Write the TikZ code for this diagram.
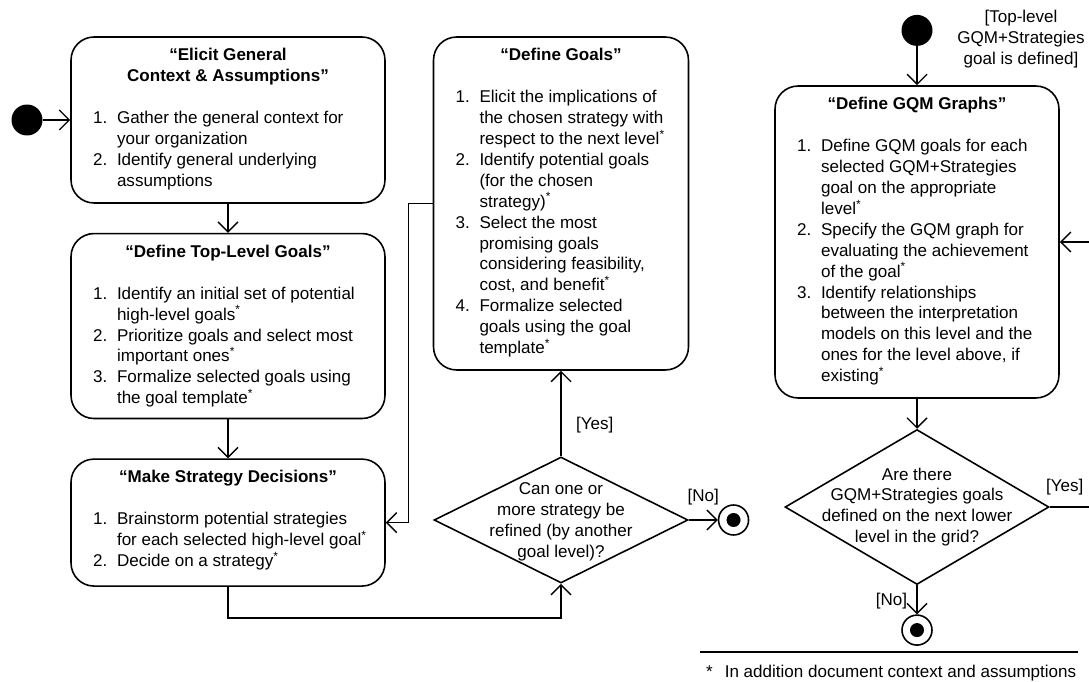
\documentclass[tikz,border=0pt]{standalone}
\usepackage{fontspec}
\setmainfont{Liberation Sans}
\usetikzlibrary{shapes.geometric, arrows.meta, positioning}

\newcommand{\starmark}{\textsuperscript{*}}
\newcommand{\actitem}[2]{\hangindent=0.48cm\hangafter=1\noindent\makebox[0.48cm][l]{#1}#2\par}
\newcommand{\actbody}[4]{\parbox[c][#2][t]{#1}{\vspace*{0.23cm}{\centering\bfseries #3\par}\vspace{\baselineskip}\raggedright\leftskip=0.2cm #4}}

\begin{document}
\fontsize{9.7}{11.9}\selectfont
\begin{tikzpicture}[x=0.02cm, y=-0.02cm]
	\tikzstyle{activity} = [draw, rounded corners=0.46cm, line width=0.9pt, inner xsep=0.24cm, inner ysep=0pt];
	\tikzstyle{decision} = [draw, diamond, line width=0.9pt, inner sep=0pt];
	\tikzstyle{question} = [align=center, inner sep=0pt];
	\tikzstyle{startdot} = [circle, fill=black, minimum size=0.62cm, inner sep=0pt];
	\tikzstyle{enddot} = [draw, circle, line width=0.9pt, minimum size=0.6cm, inner sep=0pt,
		path picture={\fill[black] (path picture bounding box.center) circle (0.14cm);}];
	\tikzstyle{flow} = [-{Straight Barb[length=0.2cm, width=0.4cm]}, line width=0.8pt];

	\useasboundingbox (0,0) rectangle (1089,682);

	% left column
	\node[startdot] (start) at (27,120) {};
	\node[activity] (elicit) at (228,120) {\actbody{5.80cm}{3.32cm}{“Elicit General\\Context \& Assumptions”}{%
		\actitem{1.}{Gather the general context for\newline your organization}
		\actitem{2.}{Identify general underlying\newline assumptions}}};
	\node[activity, below=0.58cm of elicit] (toplevel) {\actbody{5.80cm}{3.70cm}{“Define Top-Level Goals”}{%
		\actitem{1.}{Identify an initial set of potential\newline high-level goals\starmark}
		\actitem{2.}{Prioritize goals and select most\newline important ones\starmark}
		\actitem{3.}{Formalize selected goals using\newline the goal template\starmark}}};
	\node[activity, below=0.78cm of toplevel] (strat) {\actbody{5.80cm}{2.54cm}{“Make Strategy Decisions”}{%
		\actitem{1.}{Brainstorm potential strategies\newline for each selected high-level goal\starmark}
		\actitem{2.}{Decide on a strategy\starmark}}};

	% middle column
	\node[activity] (goals) at (561,203.5) {\actbody{4.62cm}{6.66cm}{“Define Goals”}{%
		\actitem{1.}{Elicit the implications of\newline the chosen strategy with\newline respect to the next level\starmark}
		\actitem{2.}{Identify potential goals\newline (for the chosen\newline strategy)\starmark}
		\actitem{3.}{Select the most\newline promising goals\newline considering feasibility,\newline cost, and benefit\starmark}
		\actitem{4.}{Formalize selected\newline goals using the goal\newline template\starmark}}};
	\node[decision, minimum width=5.08cm, minimum height=2.52cm] (dec1) at (561,520) {};
	\node[question] (dec1txt) at (561,522) {Can one or\\more strategy be\\refined (by another\\goal level)?};
	\node[enddot, right=0.58cm of dec1] (end1) {};

	% right column
	\node[activity] (gqm) at (917,242) {\actbody{5.20cm}{6.24cm}{“Define GQM Graphs”}{%
		\actitem{1.}{Define GQM goals for each\newline selected GQM+Strategies\newline goal on the appropriate\newline level\starmark}
		\actitem{2.}{Specify the GQM graph for\newline evaluating the achievement\newline of the goal\starmark}
		\actitem{3.}{Identify relationships\newline between the interpretation\newline models on this level and the\newline ones for the level above, if\newline existing\starmark}}};
	\node[startdot, above=0.78cm of gqm] (start2) {};
	\node[align=center] (toplbl) at (1021,39) {[Top-level\\GQM+Strategies\\goal is defined]};
	\node[decision, minimum width=5.28cm, minimum height=3.10cm, below=0.6cm of gqm] (dec2) {};
	\node[question] (dec2txt) at (dec2) {Are there\\GQM+Strategies goals\\defined on the next lower\\level in the grid?};
	\node[enddot, below=0.58cm of dec2] (end2) {};

	% footnote
	\coordinate (fnl) at (700,652);
	\coordinate (fnr) at (1078,652);
	\draw[line width=0.7pt] (fnl) -- (fnr);
	\node[anchor=west] (fntext) at (700,673) {*\hspace{6.9pt}In addition document context and assumptions};

	% connectors
	\draw[flow] (start) -- (elicit);
	\draw[flow] (elicit) -- (toplevel);
	\draw[flow] (toplevel) -- (strat);
	\draw[flow] (strat.south) -- ++(0,31) -| (dec1.south);
	\draw[flow] (dec1.north) -- node[pos=0.37, right=5pt] {[Yes]} (goals.south);
	\draw[flow] (dec1.east) -- node[above=5pt] {[No]} (end1);
	\draw[flow] (goals.west) -- ++(-24,0) |- (strat.east);

	\draw[flow] (start2) -- (gqm);
	\draw[flow] (gqm) -- (dec2);
	\draw[flow] (dec2.south) -- node[pos=0.55, left=2pt] {[No]} (end2);
	\draw[flow] (dec2.east) -- node[pos=0.35, above=3pt] {[Yes]} ++(43,0) |- (gqm.east);
\end{tikzpicture}
\end{document}
